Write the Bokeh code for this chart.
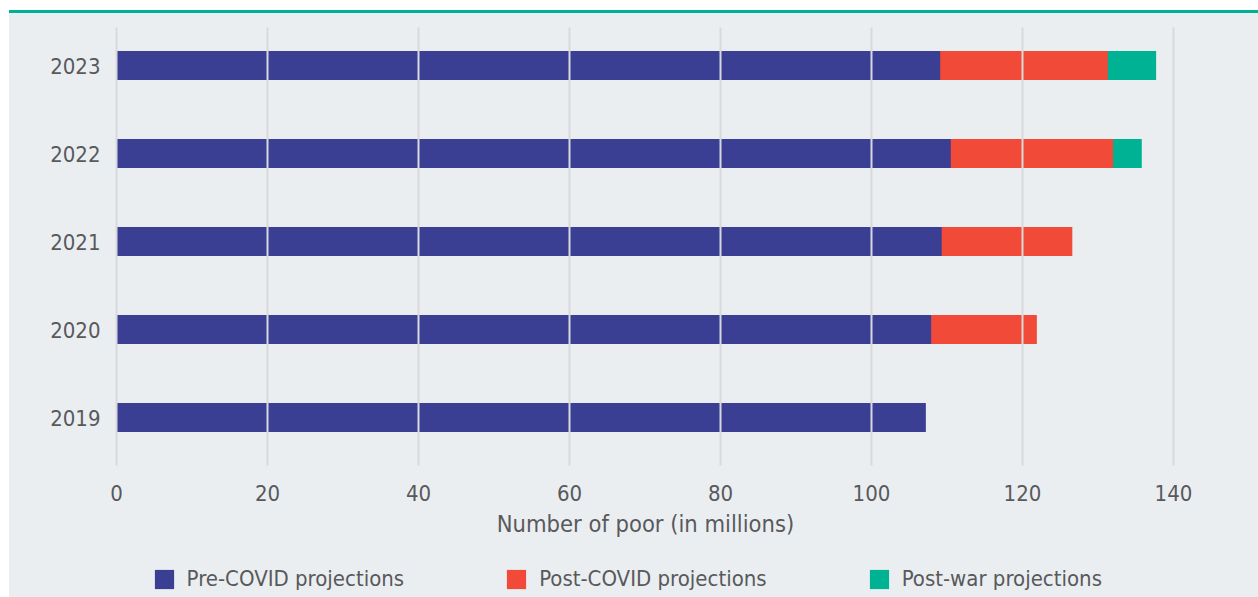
import numpy as np
from bokeh.plotting import figure
from bokeh.models import (Range1d, FixedTicker, Legend, LegendItem, ColumnDataSource, Div)
from bokeh.layouts import column
from bokeh.embed import file_html
from bokeh.resources import INLINE

# ---- data (millions of poor) ----
years = ["2019", "2020", "2021", "2022", "2023"]
pre_covid = [107.2, 107.9, 109.3, 110.5, 109.1]
post_covid = [np.nan, 121.9, 126.6, 132.0, 131.3]
post_war = [np.nan, np.nan, np.nan, 135.8, 137.7]
x_ticks = [0, 20, 40, 60, 80, 100, 120, 140]
series_labels = ["Pre-COVID projections", "Post-COVID projections", "Post-war projections"]

BLUE = "#3B3F94"
RED = "#F24A38"
TEAL = "#00B294"
BG = "#EBEEF1"
GRID = "#D8D9DC"
TXT = "#58595B"
FONT = "'DejaVu Sans Condensed', sans-serif"

pos = list(range(len(years)))
src = ColumnDataSource(dict(y=pos, pre=pre_covid, post=post_covid, war=post_war))

# ---- main chart ----
p = figure(width=1249, height=532, output_backend="svg", toolbar_location=None,
           x_range=Range1d(-0.93, 141.06), y_range=Range1d(-0.545, 4.432),
           min_border_left=100, min_border_right=77, min_border_top=14, min_border_bottom=80,
           background_fill_color=BG, border_fill_color=BG, outline_line_color=None)

r_war = p.hbar(y="y", left=0, right="war", height=0.33, source=src, color=TEAL, line_color=None)
r_post = p.hbar(y="y", left=0, right="post", height=0.33, source=src, color=RED, line_color=None)
r_pre = p.hbar(y="y", left=0, right="pre", height=0.33, source=src, color=BLUE, line_color=None)

p.xaxis.ticker = FixedTicker(ticks=x_ticks)
p.yaxis.ticker = FixedTicker(ticks=pos)
p.yaxis.major_label_overrides = {i: y for i, y in enumerate(years)}

for ax in (p.xaxis, p.yaxis):
    ax.axis_line_color = None
    ax.major_tick_line_color = None
    ax.minor_tick_line_color = None
    ax.major_label_text_font = FONT
    ax.major_label_text_font_size = "22px"
    ax.major_label_text_color = TXT
p.xaxis.major_label_standoff = 13
p.yaxis.major_label_standoff = 3
p.xaxis.axis_label = "Number of poor (in millions)"
p.xaxis.axis_label_text_font = FONT
p.xaxis.axis_label_text_font_size = "23.5px"
p.xaxis.axis_label_text_font_style = "normal"
p.xaxis.axis_label_text_color = TXT
p.xaxis.axis_label_standoff = 6

p.ygrid.grid_line_color = None
p.xgrid.grid_line_color = GRID
p.xgrid.grid_line_width = 2
p.xgrid.level = "guide"

# ---- legend strip (its bars lie outside its visible range) ----
lg = figure(width=1249, height=52, output_backend="svg", toolbar_location=None,
            x_range=Range1d(0, 1), y_range=Range1d(100, 101),
            x_axis_type=None, y_axis_type=None, min_border=0,
            background_fill_color=BG, border_fill_color=BG, outline_line_color=None)
lg.grid.visible = False
swatches = []
for col, c in (("pre", BLUE), ("post", RED), ("war", TEAL)):
    swatches.append(lg.hbar(y="y", left=0, right=col, height=0.33, source=src,
                            color=c, line_color=None))

legend = Legend(items=[LegendItem(label=l, renderers=[r]) for l, r in zip(series_labels, swatches)],
                orientation="horizontal", location=(42.6, 5.6), padding=0, margin=0,
                spacing=100, glyph_width=24, glyph_height=24, label_height=19,
                label_standoff=11, border_line_color=None, background_fill_alpha=0,
                label_text_font=FONT, label_text_font_size="22px", label_text_color=TXT)
lg.add_layout(legend)

top_line = Div(text="", width=1249, height=3, margin=0,
               styles={"background-color": TEAL})
layout = column(top_line, p, lg, spacing=0, margin=(10, 0, 0, 9),
                styles={"background-color": BG})

open("out.html", "w").write(file_html(layout, INLINE))
